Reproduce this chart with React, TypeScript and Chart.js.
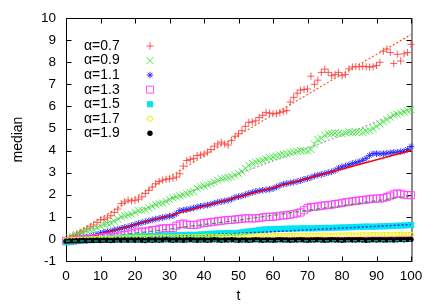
import React, { useEffect, useRef } from 'react';
import { Chart, registerables } from 'chart.js';
import { drawPoint } from 'chart.js/helpers';

Chart.register(...registerables);

const T: number[] = Array.from({ length: 101 }, (_, i) => i);

const LABELS = ['α=0.7', 'α=0.9', 'α=1.1', 'α=1.3', 'α=1.5', 'α=1.7', 'α=1.9'];

const RED = [
  -0.05, 0.05, 0.15, 0.2, 0.27, 0.35, 0.45, 0.55, 0.63, 0.75,
  0.86, 0.88, 0.95, 1.05, 1.2, 1.35, 1.6, 1.68, 1.76, 1.72,
  1.75, 1.8, 1.9, 2.06, 2.2, 2.35, 2.5, 2.6, 2.66, 2.7,
  2.72, 2.75, 2.8, 2.95, 3.3, 3.55, 3.6, 3.65, 3.78, 3.8,
  3.85, 3.93, 4.05, 4.2, 4.3, 4.38, 4.3, 4.25, 4.45, 4.65,
  4.76, 4.9, 5.1, 5.28, 5.3, 5.35, 5.5, 5.6, 5.73, 5.7,
  5.67, 5.67, 5.72, 5.78, 5.81, 6.2, 6.41, 6.6, 6.74, 6.77,
  6.79, 7.37, 7.0, 7.19, 7.54, 7.69, 7.54, 7.39, 7.45, 7.54,
  7.39, 7.45, 7.7, 7.79, 7.8, 7.8, 7.82, 7.8, 7.78, 7.8,
  7.85, 8.0, 8.5, 8.6, 8.44, 7.94, 8.36, 8.06, 8.38, 8.44,
  8.81,
];

const GREEN = [
  -0.05, 0.05, 0.12, 0.2, 0.26, 0.33, 0.38, 0.4, 0.41, 0.5,
  0.58, 0.65, 0.7, 0.71, 0.8, 0.9, 1.0, 1.05, 1.08, 1.12,
  1.2, 1.28, 1.3, 1.32, 1.4, 1.48, 1.55, 1.6, 1.62, 1.7,
  1.78, 1.85, 1.9, 1.95, 2.0, 2.05, 2.1, 2.13, 2.3, 2.36,
  2.4, 2.45, 2.5, 2.58, 2.65, 2.73, 2.76, 2.78, 2.81, 2.88,
  2.96, 3.05, 3.2, 3.33, 3.42, 3.48, 3.52, 3.56, 3.62, 3.68,
  3.71, 3.75, 3.8, 3.83, 3.86, 3.9, 3.93, 3.96, 4.0, 4.0,
  3.98, 4.05, 4.3, 4.5, 4.55, 4.7, 4.76, 4.78, 4.8, 4.78,
  4.76, 4.8, 4.85, 4.82, 4.83, 4.85, 4.82, 4.88, 4.91, 5.0,
  5.1, 5.21, 5.3, 5.4, 5.51, 5.6, 5.65, 5.7, 5.75, 5.8,
  5.85,
];

const BLUE = [
  -0.15, -0.1, -0.05, 0.0, 0.03, 0.06, 0.08, 0.1, 0.15, 0.2,
  0.25, 0.3, 0.33, 0.36, 0.4, 0.44, 0.48, 0.52, 0.55, 0.6,
  0.65, 0.7, 0.74, 0.78, 0.82, 0.86, 0.9, 0.93, 0.97, 1.0,
  1.03, 1.05, 1.15, 1.28, 1.3, 1.33, 1.36, 1.4, 1.44, 1.48,
  1.51, 1.53, 1.57, 1.62, 1.66, 1.69, 1.72, 1.75, 1.8, 1.88,
  1.91, 1.95, 2.0, 2.06, 2.1, 2.15, 2.18, 2.21, 2.22, 2.25,
  2.28, 2.35, 2.42, 2.48, 2.51, 2.54, 2.57, 2.6, 2.64, 2.7,
  2.73, 2.78, 2.85, 2.89, 2.92, 2.96, 3.0, 3.04, 3.1, 3.2,
  3.26, 3.3, 3.35, 3.41, 3.45, 3.5, 3.56, 3.65, 3.78, 3.86,
  3.86, 3.85, 3.86, 3.88, 3.9, 3.92, 3.93, 3.95, 3.98, 4.05,
  4.18,
];

const MAGENTA = [
  -0.1, -0.1, -0.08, -0.05, -0.03, -0.02, 0.0, 0.0, 0.02, 0.04,
  0.06, 0.08, 0.1, 0.05, 0.08, 0.1, 0.15, 0.18, 0.2, 0.24,
  0.28, 0.33, 0.33, 0.33, 0.36, 0.4, 0.41, 0.45, 0.48, 0.48,
  0.48, 0.5, 0.6, 0.66, 0.7, 0.65, 0.63, 0.63, 0.65, 0.7,
  0.72, 0.74, 0.76, 0.78, 0.8, 0.82, 0.84, 0.86, 0.86, 0.88,
  0.9, 0.92, 0.93, 0.93, 0.93, 0.93, 0.95, 0.97, 1.0, 1.0,
  1.0, 1.02, 1.05, 1.06, 1.08, 1.1, 1.12, 1.16, 1.2, 1.3,
  1.4, 1.45, 1.45, 1.47, 1.5, 1.52, 1.53, 1.55, 1.58, 1.6,
  1.63, 1.66, 1.68, 1.7, 1.72, 1.74, 1.76, 1.78, 1.8, 1.82,
  1.83, 1.83, 1.85, 1.9, 1.96, 2.02, 2.06, 2.05, 2.0, 1.98,
  1.98,
];

const CYAN = [
  -0.15, -0.12, -0.1, -0.1, -0.08, -0.06, -0.05, -0.04, -0.03, -0.02,
  -0.01, 0.0, 0.01, 0.02, 0.03, 0.04, 0.05, 0.06, 0.07, 0.08,
  0.09, 0.1, 0.1, 0.11, 0.12, 0.13, 0.13, 0.14, 0.15, 0.15,
  0.16, 0.16, 0.17, 0.17, 0.18, 0.18, 0.19, 0.18, 0.19, 0.2,
  0.21, 0.22, 0.23, 0.24, 0.25, 0.26, 0.26, 0.27, 0.27, 0.26,
  0.28, 0.3, 0.32, 0.34, 0.36, 0.38, 0.4, 0.42, 0.43, 0.44,
  0.44, 0.45, 0.45, 0.46, 0.46, 0.47, 0.47, 0.47, 0.48, 0.48,
  0.48, 0.48, 0.48, 0.49, 0.49, 0.5, 0.5, 0.5, 0.51, 0.51,
  0.52, 0.52, 0.53, 0.53, 0.54, 0.55, 0.55, 0.56, 0.56, 0.55,
  0.56, 0.57, 0.57, 0.58, 0.58, 0.59, 0.6, 0.6, 0.61, 0.62,
  0.63,
];

const YELLOW = [
  -0.08, -0.06, -0.05, -0.04, -0.03, -0.02, -0.02, -0.01, 0.0, 0.0,
  0.01, 0.0, 0.02, 0.01, 0.02, 0.03, 0.02, 0.03, 0.04, 0.03,
  0.04, 0.05, 0.04, 0.05, 0.05, 0.06, 0.05, 0.06, 0.07, 0.06,
  0.07, 0.06, 0.07, 0.08, 0.07, 0.08, 0.07, 0.08, 0.09, 0.08,
  0.09, 0.1, 0.09, 0.1, 0.09, 0.1, 0.11, 0.1, 0.11, 0.1,
  0.11, 0.12, 0.11, 0.12, 0.11, 0.12, 0.13, 0.12, 0.13, 0.12,
  0.13, 0.14, 0.13, 0.12, 0.13, 0.14, 0.13, 0.14, 0.15, 0.14,
  0.13, 0.14, 0.15, 0.14, 0.15, 0.16, 0.15, 0.14, 0.15, 0.16,
  0.15, 0.16, 0.17, 0.16, 0.15, 0.16, 0.17, 0.16, 0.17, 0.18,
  0.17, 0.16, 0.17, 0.18, 0.17, 0.18, 0.19, 0.18, 0.17, 0.18,
  0.19,
];

const BLACK = [
  -0.1, -0.09, -0.09, -0.08, -0.08, -0.07, -0.08, -0.07, -0.07, -0.06,
  -0.07, -0.06, -0.06, -0.07, -0.06, -0.05, -0.06, -0.05, -0.06, -0.05,
  -0.06, -0.05, -0.06, -0.07, -0.05, -0.06, -0.05, -0.06, -0.05, -0.04,
  -0.05, -0.06, -0.05, -0.05, -0.06, -0.05, -0.04, -0.05, -0.06, -0.05,
  -0.05, -0.06, -0.05, -0.04, -0.05, -0.06, -0.05, -0.05, -0.04, -0.05,
  -0.06, -0.05, -0.05, -0.06, -0.05, -0.04, -0.05, -0.06, -0.05, -0.05,
  -0.06, -0.05, -0.04, -0.05, -0.05, -0.06, -0.05, -0.05, -0.04, -0.05,
  -0.06, -0.05, -0.05, -0.04, -0.05, -0.06, -0.05, -0.04, -0.05, -0.05,
  -0.06, -0.05, -0.04, -0.05, -0.05, -0.04, -0.05, -0.06, -0.05, -0.04,
  -0.05, -0.04, -0.05, -0.05, -0.04, -0.05, -0.04, -0.03, -0.04, -0.03,
  -0.02,
];

const FIT_T = [0, 25, 50, 75, 100];
const FIT07 = [0, 2.35, 4.7, 7.0, 9.25];
const FIT09 = [0, 1.5, 2.95, 4.4, 5.9];
const FIT11 = [-0.2, 0.85, 1.9, 2.95, 4.0];
const FIT13 = [-0.1, 0.35, 0.85, 1.4, 1.95];
const FIT15 = [-0.1, 0.08, 0.25, 0.45, 0.65];
const FIT17 = [-0.05, -0.02, 0.02, 0.05, 0.08];
const FIT19 = [-0.1, -0.09, -0.09, -0.08, -0.08];

const X_TICKS = [0, 10, 20, 30, 40, 50, 60, 70, 80, 90, 100];
const Y_TICKS = [-1, 0, 1, 2, 3, 4, 5, 6, 7, 8, 9, 10];

const FONT = 'Liberation Sans, Arial, sans-serif';

const toXY = (xs: number[], ys: number[]) => ys.map((y, i) => ({ x: xs[i], y }));

type Series = {
  label: string;
  values: number[];
  style: string;
  radius: number;
  color: string;
  fill: string;
  width: number;
};

const SERIES: Series[] = [
  { label: LABELS[0], values: RED, style: 'cross', radius: 3.6, color: 'rgba(255,50,50,0.8)', fill: 'rgba(0,0,0,0)', width: 1 },
  { label: LABELS[1], values: GREEN, style: 'crossRot', radius: 5, color: 'rgba(50,235,50,0.9)', fill: 'rgba(0,0,0,0)', width: 1 },
  { label: LABELS[2], values: BLUE, style: 'star', radius: 3.3, color: 'rgba(30,30,255,0.85)', fill: 'rgba(0,0,0,0)', width: 1 },
  { label: LABELS[3], values: MAGENTA, style: 'rect', radius: 5, color: 'rgba(255,60,255,0.9)', fill: 'rgba(0,0,0,0)', width: 1 },
  { label: LABELS[4], values: CYAN, style: 'rect', radius: 4.3, color: 'rgba(0,230,240,1)', fill: 'rgba(0,230,240,1)', width: 0 },
  { label: LABELS[5], values: YELLOW, style: 'circle', radius: 2.7, color: 'rgba(240,240,0,1)', fill: 'rgba(0,0,0,0)', width: 1 },
  { label: LABELS[6], values: BLACK, style: 'circle', radius: 2.7, color: '#000000', fill: '#000000', width: 0 },
];

type Fit = { values: number[]; color: string; dash: number[]; width: number };

const FITS: Fit[] = [
  { values: FIT07, color: '#ff5a1e', dash: [2, 2], width: 1.2 },
  { values: FIT09, color: '#a0a0a0', dash: [2, 2], width: 1.2 },
  { values: FIT11, color: '#ff0000', dash: [], width: 1.5 },
  { values: FIT13, color: '#20b020', dash: [4, 3], width: 1.2 },
  { values: FIT15, color: '#1030ff', dash: [2, 2], width: 1.5 },
  { values: FIT17, color: '#e020e0', dash: [], width: 1.2 },
  { values: FIT19, color: '#009a9a', dash: [4, 3], width: 1.5 },
];

const frameAndTicks = {
  id: 'frameAndTicks',
  beforeDatasetsDraw(chart: any) {
    const { ctx, chartArea: a, scales } = chart;
    const l = Math.round(a.left) + 0.5;
    const r = Math.round(a.right) + 0.5;
    const t = Math.round(a.top) + 0.5;
    const b = Math.round(a.bottom) + 0.5;
    ctx.save();
    ctx.strokeStyle = '#000';
    ctx.lineWidth = 1;
    ctx.beginPath();
    ctx.moveTo(r, t);
    ctx.lineTo(l, t);
    ctx.lineTo(l, b);
    ctx.lineTo(r, b);
    ctx.stroke();
    ctx.strokeStyle = '#8c8c8c';
    ctx.lineWidth = 2;
    ctx.beginPath();
    ctx.moveTo(r + 0.5, t - 0.5);
    ctx.lineTo(r + 0.5, b + 0.5);
    ctx.stroke();
    ctx.strokeStyle = '#000';
    ctx.lineWidth = 1;
    const L = 5;
    ctx.beginPath();
    X_TICKS.forEach((v) => {
      const x = Math.round(scales.x.getPixelForValue(v)) + 0.5;
      ctx.moveTo(x, b);
      ctx.lineTo(x, b - L);
      ctx.moveTo(x, t);
      ctx.lineTo(x, t + L);
    });
    Y_TICKS.forEach((v) => {
      const y = Math.round(scales.y.getPixelForValue(v)) + 0.5;
      ctx.moveTo(l, y);
      ctx.lineTo(l + L, y);
      ctx.moveTo(r, y);
      ctx.lineTo(r - L, y);
    });
    ctx.stroke();
    ctx.restore();
  },
};

const keyPlugin = {
  id: 'keyPlugin',
  afterDraw(chart: any) {
    const { ctx } = chart;
    ctx.save();
    ctx.font = `14px ${FONT}`;
    ctx.textBaseline = 'middle';
    ctx.textAlign = 'left';
    SERIES.forEach((s, i) => {
      const y = 46 + i * 14.55;
      ctx.fillStyle = '#000';
      ctx.fillText(s.label, 84, y);
      ctx.strokeStyle = s.color;
      ctx.fillStyle = s.fill;
      ctx.lineWidth = s.width || 1;
      drawPoint(ctx, { pointStyle: s.style, radius: s.radius, borderWidth: s.width, rotation: 0 } as any, 150, y);
    });
    ctx.restore();
  },
};

export default function App() {
  const ref = useRef<HTMLCanvasElement | null>(null);
  useEffect(() => {
    if (!ref.current) return;
    const datasets: any[] = [];
    let k = 0;
    SERIES.forEach((s, i) => {
      datasets.push({
        label: s.label,
        data: toXY(T, s.values),
        showLine: false,
        pointStyle: s.style,
        pointRadius: s.radius,
        pointBorderWidth: s.width,
        pointBorderColor: s.color,
        pointBackgroundColor: s.fill,
        borderColor: s.color,
        backgroundColor: s.fill,
        clip: false,
        order: -k++,
      });
      const f = FITS[i];
      datasets.push({
        label: 'fit ' + s.label,
        data: toXY(FIT_T, f.values),
        showLine: true,
        pointRadius: 0,
        borderColor: f.color,
        borderWidth: f.width,
        borderDash: f.dash,
        fill: false,
        tension: 0,
        order: -k++,
      });
    });
    const chart = new Chart(ref.current, {
      type: 'scatter',
      data: { datasets },
      plugins: [frameAndTicks, keyPlugin],
      options: {
        animation: false,
        responsive: false,
        events: [],
        layout: { padding: { top: 17, right: 25, left: 0, bottom: 0 } },
        plugins: { legend: { display: false }, tooltip: { enabled: false } },
        scales: {
          x: {
            type: 'linear',
            min: 0,
            max: 100,
            afterFit: (s: any) => { s.height = 44; },
            afterBuildTicks: (s: any) => { s.ticks = X_TICKS.map((v) => ({ value: v })); },
            grid: { display: false, drawTicks: false },
            border: { display: false },
            ticks: { padding: 7, color: '#000', font: { family: FONT, size: 13.5 }, maxRotation: 0, autoSkip: false },
            title: { display: true, text: 't', color: '#000', font: { family: FONT, size: 14 }, padding: { top: 0, bottom: 0 } },
          },
          y: {
            type: 'linear',
            min: -1,
            max: 10,
            afterFit: (s: any) => { s.width = 66; },
            afterBuildTicks: (s: any) => { s.ticks = Y_TICKS.map((v) => ({ value: v })); },
            grid: { display: false, drawTicks: false },
            border: { display: false },
            ticks: { padding: 10, color: '#000', font: { family: FONT, size: 13.5 }, autoSkip: false },
            title: { display: true, text: 'median', color: '#000', font: { family: FONT, size: 14 }, padding: { top: 10, bottom: 0 } },
          },
        },
      },
    });
    return () => chart.destroy();
  }, []);
  return (
    <div style={{ position: 'fixed', left: 0, top: 0, width: 436, height: 305, background: '#fff' }}>
      <canvas ref={ref} width={436} height={305} style={{ width: 436, height: 305, display: 'block' }} />
    </div>
  );
}
